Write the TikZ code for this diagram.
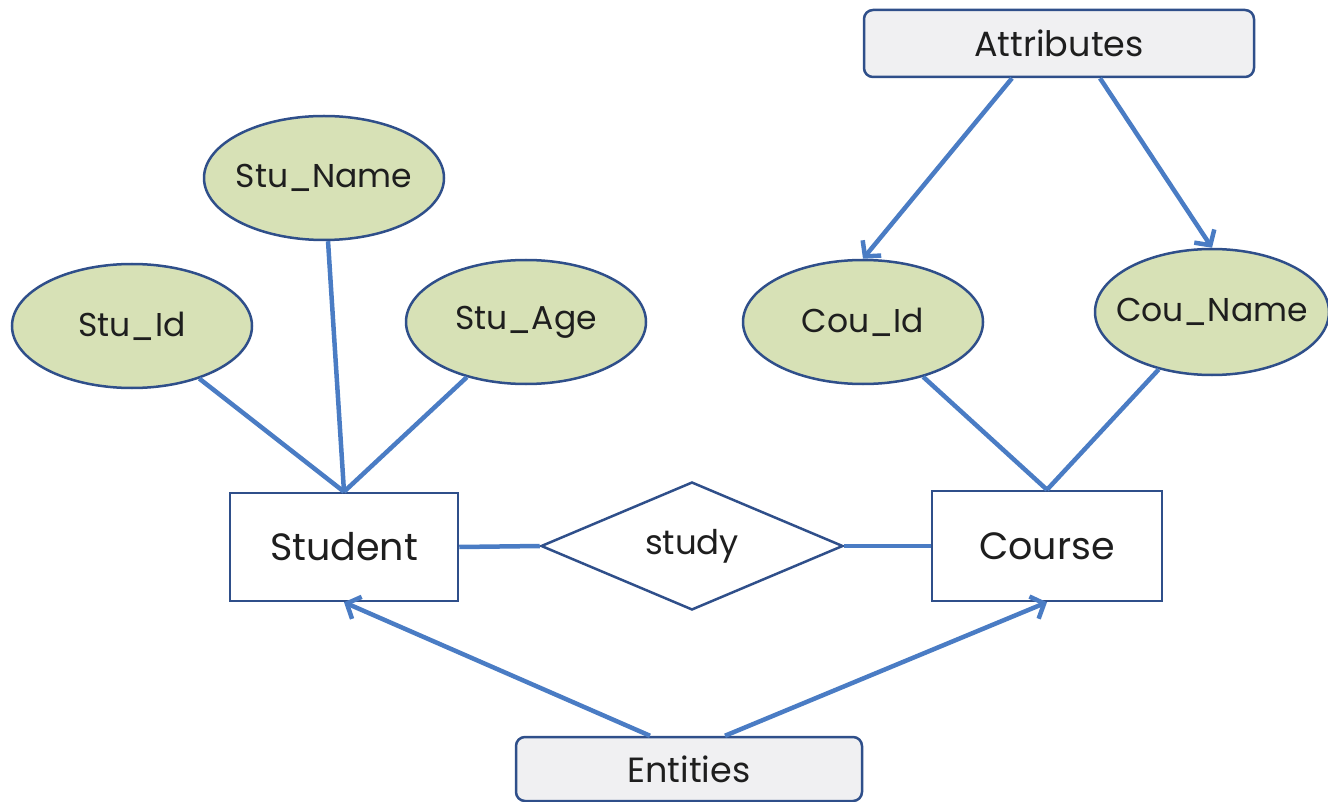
\documentclass[tikz,border=0pt]{standalone}
\usepackage{fontspec}
\setmainfont{Poppins}
\usetikzlibrary{shapes.geometric,arrows.meta}
\definecolor{edgeblue}{HTML}{4A7CC4}
\definecolor{borderblue}{HTML}{2F4F8A}
\definecolor{attrfill}{HTML}{D7E1B6}
\definecolor{labelfill}{HTML}{F0F0F2}
\definecolor{txt}{HTML}{1E1E1E}
\newcommand{\zw}[1]{\makebox[0pt][c]{#1}}
\tikzset{
  attr/.style={ellipse,draw=borderblue,line width=2.5pt,fill=attrfill,minimum width=240pt,minimum height=124pt,inner sep=0pt,font=\fontsize{33}{36}\selectfont,text=txt},
  entity/.style={rectangle,draw=borderblue,line width=2.5pt,fill=white,minimum width=228pt,minimum height=108pt,inner sep=0pt,font=\fontsize{38}{42}\selectfont,text=txt},
  rel/.style={diamond,draw=borderblue,line width=2.5pt,fill=white,minimum width=302pt,minimum height=128pt,inner sep=0pt,aspect=2.36,font=\fontsize{34}{38}\selectfont,text=txt},
  tag/.style={rectangle,rounded corners=9pt,draw=borderblue,line width=2.5pt,fill=labelfill,inner sep=0pt,font=\fontsize{35}{38}\selectfont,text=txt},
  conn/.style={draw=edgeblue,line width=4.5pt},
  arr/.style={conn,-{Straight Barb[length=11pt,width=24pt]}}
}
\begin{document}
\begin{tikzpicture}[x=1pt,y=-1pt]
\useasboundingbox (0,0) rectangle (1328,802);
% tags
\node[tag,minimum width=390pt,minimum height=67pt] (attrs) at (1059,43.5) {Attributes};
\node[tag,minimum width=346pt,minimum height=64pt] (ents) at (689,769) {Entities};
% attributes
\node[attr] (sname) at (324,178) {\zw{Stu\_Name}};
\node[attr] (sid) at (132,326) {\zw{Stu\_Id}};
\node[attr] (sage) at (526,322) {\zw{Stu\_Age}};
\node[attr] (cid) at (863,322) {\zw{Cou\_Id}};
\node[attr,minimum width=234pt,minimum height=126pt] (cname) at (1212,312) {\zw{Cou\_Name}};
% entities and relation
\node[entity] (student) at (344,547) {Student};
\node[entity,minimum width=230pt,minimum height=110pt] (course) at (1047,546) {Course};
\node[rel] (study) at (692,546) {\zw{study}};
% connectors
\draw[conn] (sid) -- (student.north);
\draw[conn] (sname) -- (student.north);
\draw[conn] (sage) -- (student.north);
\draw[conn] (cid) -- (course.north);
\draw[conn] (cname) -- (course.north);
\draw[conn] (student.east) -- (study.west);
\draw[conn] (study.east) -- (course.west);
% arrows
\draw[arr] ([xshift=-47pt]attrs.south) -- (cid.north);
\draw[arr] ([xshift=41pt]attrs.south) -- (cname.north);
\draw[arr] ([xshift=-39pt]ents.north) -- (student.south);
\draw[arr] ([xshift=36pt]ents.north) -- (course.south);
\end{tikzpicture}
\end{document}
